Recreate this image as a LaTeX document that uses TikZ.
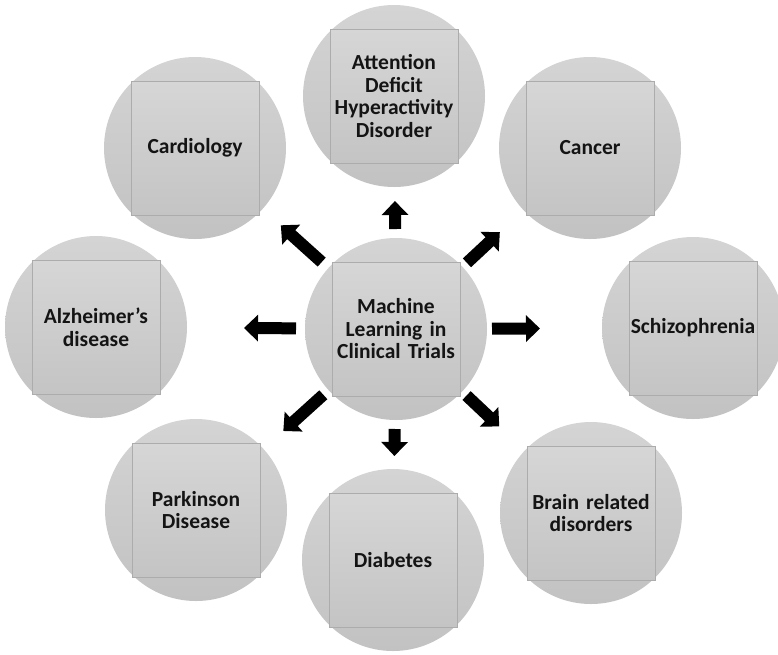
\documentclass[tikz,border=0pt]{standalone}
\usepackage{fontspec}
\setmainfont{Carlito}
\usetikzlibrary{arrows.meta,calc}

\definecolor{discTop}{RGB}{212,212,212}
\definecolor{discBot}{RGB}{194,194,194}
\definecolor{boxTop}{RGB}{214,214,214}
\definecolor{boxBot}{RGB}{196,196,196}
\definecolor{boxEdge}{RGB}{172,172,172}
\definecolor{labelInk}{RGB}{20,20,20}

\tikzset{
  disc/.style={circle, minimum size=182pt, inner sep=0pt, draw=none,
               top color=discTop, bottom color=discBot},
  topicbox/.style={rectangle, minimum width=128pt, minimum height=134pt,
               inner sep=0pt, text width=128pt, align=center,
               draw=boxEdge, line width=0.8pt,
               top color=boxTop, bottom color=boxBot,
               text=labelInk, font=\bfseries\fontsize{21.5}{22.5}\selectfont},
  blockarrow/.style={line width=12pt, draw=black,
               -{Triangle[width=26pt,length=14pt]}}
}

\begin{document}
\begin{tikzpicture}[x=1pt,y=-1pt]
  \useasboundingbox (0,0) rectangle (778,654);
  \clip (0,0) rectangle (778,654);

  % hub
  \node[disc] (hub) at (396,329) {};
  \node[topicbox] (hubtxt) at (hub) {Machine\\Learning in\\Clinical Trials};

  % surrounding topics
  \foreach \nm/\px/\py/\txt in {
      adhd/394/96/{Attention\\Deficit\\Hyperactivity\\Disorder},
      cardio/195/148/{Cardiology},
      cancer/590/148/{Cancer},
      alz/96/327/{Alzheimer’s\\disease},
      schizo/693/328/{Schizophrenia},
      park/196/510/{Parkinson\\Disease},
      diab/393/560/{Diabetes},
      brain/591/513/{Brain related\\disorders}}{
    \node[disc] (\nm) at (\px,\py) {};
    \node[topicbox] (\nm-txt) at (\nm) {\txt};
  }

  % arrows radiating from the hub
  \draw[blockarrow] ($(hub)!100pt!(adhd)$) -- ($(hub)!128pt!(adhd)$);
  \draw[blockarrow] ($(hub)!100pt!(diab)$) -- ($(hub)!127pt!(diab)$);
  \draw[blockarrow] ($(hub)!100pt!(cardio)$) -- ($(hub)!155pt!(cardio)$);
  \draw[blockarrow] ($(hub)!97pt!(cancer)$) -- ($(hub)!142pt!(cancer)$);
  \draw[blockarrow] ($(hub)!100pt!(alz)$) -- ($(hub)!152pt!(alz)$);
  \draw[blockarrow] ($(hub)!96pt!(schizo)$) -- ($(hub)!144pt!(schizo)$);
  \draw[blockarrow] ($(hub)!98pt!(park)$) -- ($(hub)!152pt!(park)$);
  \draw[blockarrow] ($(hub)!97pt!(brain)$) -- ($(hub)!142pt!(brain)$);
\end{tikzpicture}
\end{document}
